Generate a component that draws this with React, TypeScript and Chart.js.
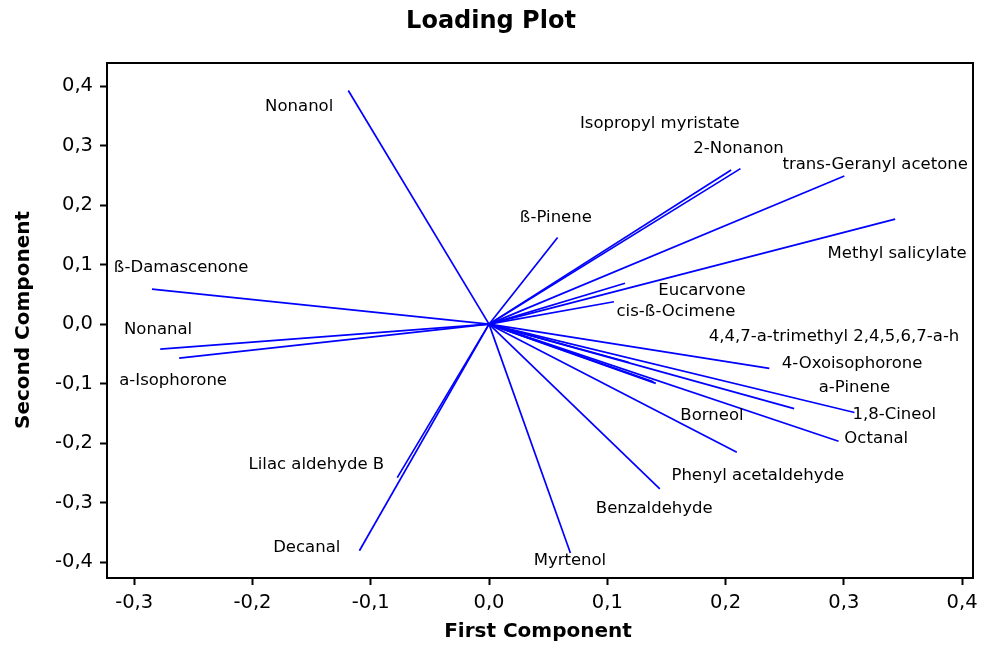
import React, { useEffect, useRef } from "react";
import { Chart, registerables } from "chart.js";

Chart.register(...registerables);

const chartTitle = "Loading Plot";
const xTitle = "First Component";
const yTitle = "Second Component";

const names = [
  "Nonanol",
  "Isopropyl myristate",
  "2-Nonanon",
  "trans-Geranyl acetone",
  "ß-Pinene",
  "Methyl salicylate",
  "ß-Damascenone",
  "Eucarvone",
  "cis-ß-Ocimene",
  "Nonanal",
  "4,4,7-a-trimethyl 2,4,5,6,7-a-h",
  "4-Oxoisophorone",
  "a-Isophorone",
  "a-Pinene",
  "Borneol",
  "1,8-Cineol",
  "Octanal",
  "Lilac aldehyde B",
  "Phenyl acetaldehyde",
  "Benzaldehyde",
  "Decanal",
  "Myrtenol",
  "",
];

// loadings (end points of the vectors)
const loadX = [
  -0.119, 0.2047, 0.2126, 0.3004, 0.058, 0.3434, -0.285, 0.115, 0.1056, -0.278,
  0.118, 0.237, -0.262, 0.258, 0.141, 0.309, 0.2955, -0.0776, 0.2095, 0.1444,
  -0.1096, 0.0688, 0.139,
];
const loadY = [
  0.393, 0.2594, 0.2616, 0.2493, 0.1456, 0.1767, 0.059, 0.0687, 0.0377, -0.042,
  -0.064, -0.0745, -0.057, -0.142, -0.0996, -0.1485, -0.197, -0.258, -0.2155,
  -0.277, -0.381, -0.385, -0.097,
];

// label anchor positions (data units)
const labelX = [
  -0.1605, 0.1444, 0.211, 0.3265, 0.0565, 0.345, -0.2603, 0.18, 0.158, -0.2798,
  0.2917, 0.307, -0.2671, 0.309, 0.1885, 0.3427, 0.3274, -0.146, 0.2272, 0.1397,
  -0.1541, 0.0684, 0,
];
const labelY = [
  0.366, 0.3376, 0.2954, 0.2684, 0.179, 0.118, 0.0945, 0.0557, 0.0203, -0.0101,
  -0.0203, -0.0658, -0.0945, -0.1063, -0.1536, -0.152, -0.1924, -0.2363, -0.2549,
  -0.3105, -0.3764, -0.398, 0,
];

const xMin = -0.323;
const xMax = 0.4092;
const yMin = -0.4269;
const yMax = 0.4392;
const tickStep = 0.1;

const FONT = "'DejaVu Sans', Verdana, sans-serif";

function fmt(v: number): string {
  if (Math.abs(v) < 1e-9) return "0,0";
  return v.toFixed(1).replace(".", ",");
}

export default function App() {
  const ref = useRef<HTMLCanvasElement | null>(null);

  useEffect(() => {
    document.body.style.margin = "0";
    const canvas = ref.current;
    if (!canvas) return;

    const datasets = loadX.map((x, i) => ({
      label: names[i] || "extra",
      data: [
        { x: 0, y: 0 },
        { x: x, y: loadY[i] },
      ],
      showLine: true,
      borderColor: "#0000ff",
      backgroundColor: "#0000ff",
      borderWidth: 1.7,
      pointRadius: 0,
      pointHoverRadius: 0,
    }));

    const decor = {
      id: "decor",
      afterDatasetsDraw(chart: any) {
        const ctx = chart.ctx;
        const xs = chart.scales.x;
        const ys = chart.scales.y;
        const area = chart.chartArea;
        ctx.save();
        // labels
        ctx.fillStyle = "#000";
        ctx.font = `16.5px ${FONT}`;
        ctx.textAlign = "center";
        ctx.textBaseline = "middle";
        names.forEach((n, i) => {
          if (!n) return;
          ctx.fillText(n, xs.getPixelForValue(labelX[i]), ys.getPixelForValue(labelY[i]));
        });
        // frame
        ctx.strokeStyle = "#000";
        ctx.lineWidth = 2;
        ctx.strokeRect(area.left, area.top, area.right - area.left, area.bottom - area.top);
        // main title
        ctx.font = `bold 24px ${FONT}`;
        ctx.fillText(chartTitle, 491, 22);
        // axis titles
        ctx.font = `bold 20px ${FONT}`;
        ctx.fillText(xTitle, 538, 632);
        ctx.translate(24, 320);
        ctx.rotate(-Math.PI / 2);
        ctx.fillText(yTitle, 0, 0);
        ctx.restore();
      },
    };

    const chart = new Chart(canvas, {
      type: "scatter",
      data: { datasets },
      options: {
        responsive: false,
        animation: false,
        devicePixelRatio: 1,
        layout: { padding: { left: 0, right: 14, top: 63, bottom: 0 } },
        plugins: {
          legend: { display: false },
          title: { display: false },
          tooltip: { enabled: false },
        },
        scales: {
          x: {
            type: "linear",
            min: xMin,
            max: xMax,
            afterFit: (s: any) => {
              s.height = 67;
            },
            border: { display: false },
            grid: {
              display: true,
              drawOnChartArea: false,
              drawTicks: true,
              tickLength: 7,
              tickWidth: 2,
              tickColor: "#000",
              color: "#000",
            },
            ticks: {
              stepSize: tickStep,
              includeBounds: false,
              color: "#000",
              padding: 6,
              maxRotation: 0,
              font: { family: FONT, size: 19.5 },
              callback: (v: any) => fmt(Number(v)),
            },
          },
          y: {
            type: "linear",
            min: yMin,
            max: yMax,
            afterFit: (s: any) => {
              s.width = 107;
            },
            border: { display: false },
            grid: {
              display: true,
              drawOnChartArea: false,
              drawTicks: true,
              tickLength: 7,
              tickWidth: 2,
              tickColor: "#000",
              color: "#000",
            },
            ticks: {
              stepSize: tickStep,
              includeBounds: false,
              color: "#000",
              padding: 7,
              font: { family: FONT, size: 19.5 },
              callback: (v: any) => fmt(Number(v)),
            },
          },
        },
      },
      plugins: [decor],
    } as any);

    return () => {
      chart.destroy();
    };
  }, []);

  return (
    <div style={{ width: 987, height: 645 }}>
      <canvas ref={ref} width={987} height={645} style={{ display: "block", width: 987, height: 645 }} />
    </div>
  );
}
